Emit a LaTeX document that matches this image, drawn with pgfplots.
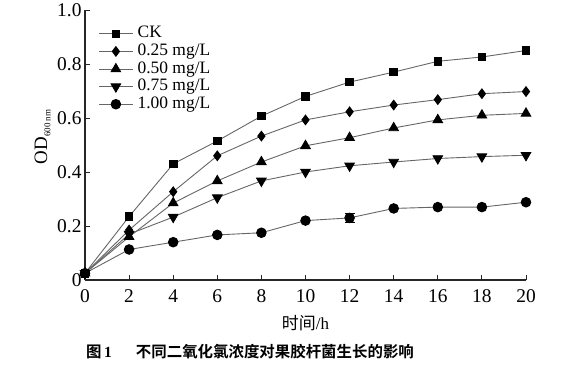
\documentclass[border=0pt]{standalone}
\usepackage{pgfplots}
\pgfplotsset{compat=1.18}
\usepackage{fontspec}
\setmainfont{Liberation Serif}
\newfontfamily\cjk[BoldFont={Noto Sans CJK SC Bold}]{Noto Sans CJK SC}
\begin{document}
\begin{tikzpicture}
\path[use as bounding box] (0,0) rectangle (564bp,367bp);
\begin{axis}[
  at={(85bp,87bp)}, anchor=south west,
  scale only axis, width=441bp, height=270bp,
  xmin=0, xmax=20, ymin=0, ymax=1,
  axis lines=left,
  axis line style={-, line width=1.3bp, black!85},
  tick style={line width=0.9bp, black!85},
  tick align=inside, major tick length=5bp,
  xtick={0,2,4,6,8,10,12,14,16,18,20},
  ytick={0,0.2,0.4,0.6,0.8,1},
  yticklabels={0,0.2,0.4,0.6,0.8,1.0},
  /pgf/number format/assume math mode=true,
  tick label style={font=\fontsize{19.5}{19.5}\selectfont},
  xticklabel style={yshift=-6bp},
  xlabel={{\cjk 时间}/h},
  xlabel style={font=\fontsize{17}{17}\selectfont, at={(0.5,0)}, anchor=center, yshift=-43bp},
  ylabel={OD\raisebox{-0.35ex}{\fontsize{9}{9}\selectfont 600 nm}},
  every axis y label/.append style={at={(ticklabel cs:0.53)}},
  ylabel style={font=\fontsize{19}{19}\selectfont},
  clip=false,
  legend style={draw=none, fill=none, at={(0.03,0.945)}, anchor=north west,
    font=\fontsize{17.5}{17.5}\selectfont, row sep=0pt, column sep=4bp, inner sep=0pt,
    nodes={inner sep=0.3bp, text height=12.5bp, text depth=4.5bp}},
  legend cell align=left,
  legend image code/.code={\draw[mark repeat=2,mark phase=2,#1] plot coordinates {(0bp,0bp)(17bp,0bp)(34bp,0bp)};},
  every axis plot/.append style={black!60, line width=0.9bp},
]
\addplot[black!60, mark=square*, mark size=3.8bp, mark options={black, solid}] coordinates {
(0,0.025) (2,0.235) (4,0.43) (6,0.515) (8,0.607) (10,0.68) (12,0.733) (14,0.77) (16,0.81) (18,0.826) (20,0.85)};
\addlegendentry{CK}
\addplot[black!60, mark=diamond*, mark size=4.8bp, mark options={black, solid}] coordinates {
(0,0.025) (2,0.185) (4,0.327) (6,0.46) (8,0.533) (10,0.593) (12,0.623) (14,0.648) (16,0.668) (18,0.69) (20,0.698)};
\addlegendentry{0.25 mg/L}
\addplot[black!60, mark=triangle*, mark size=5.5bp, mark options={black, solid}] coordinates {
(0,0.025) (2,0.16) (4,0.285) (6,0.367) (8,0.437) (10,0.497) (12,0.527) (14,0.563) (16,0.593) (18,0.61) (20,0.617)};
\addlegendentry{0.50 mg/L}
\addplot[black!60, mark=triangle*, mark size=5.5bp, mark options={black, solid, rotate=180}] coordinates {
(0,0.025) (2,0.17) (4,0.233) (6,0.305) (8,0.367) (10,0.40) (12,0.423) (14,0.437) (16,0.45) (18,0.457) (20,0.462)};
\addlegendentry{0.75 mg/L}
\addplot[black!60, mark=*, mark size=4.8bp, mark options={black, solid}] coordinates {
(0,0.025) (2,0.113) (4,0.14) (6,0.167) (8,0.175) (10,0.22) (12,0.23) (14,0.265) (16,0.27) (18,0.27) (20,0.288)};
\addlegendentry{1.00 mg/L}
\addplot[forget plot, draw=none, mark=none, error bars/.cd, y dir=both, y explicit,
  error bar style={black, line width=0.9bp}, error mark options={rotate=90, mark size=5bp, black, line width=0.9bp}]
  coordinates {(12,0.23) +- (0,0.018)};
\end{axis}
\node[anchor=west, font=\fontsize{15.5}{15.5}\selectfont, inner sep=0pt] at (86bp,15bp)
  {{\cjk\bfseries 图}\,\textbf{1}\hspace{24bp}{\cjk\bfseries 不同二氧化氯浓度对果胶杆菌生长的影响}};
\end{tikzpicture}
\end{document}
